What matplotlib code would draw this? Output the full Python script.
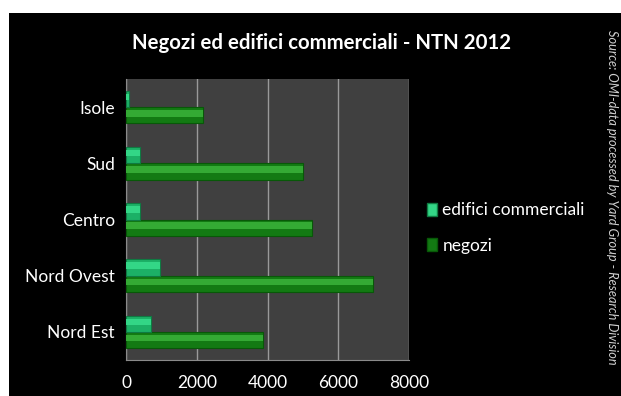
import matplotlib.pyplot as plt
from matplotlib.patches import Rectangle
import numpy as np

# data
regions = ["Nord Est", "Nord Ovest", "Centro", "Sud", "Isole"]
negozi = [3880, 6980, 5270, 4990, 2170]
edifici = [700, 960, 400, 400, 80]
xticks = [0, 2000, 4000, 6000, 8000]

title = "Negozi ed edifici commerciali - NTN 2012"
source = "Source: OMI-data processed by Yard Group - Research Division"

plt.rcParams['font.family'] = ['Lato', 'DejaVu Sans']

fig = plt.figure(figsize=(6.21, 3.96), dpi=100, facecolor="white")
# black panel with small white margin top/left
fig.patches.append(Rectangle((9 / 621, 0), 1, 1 - 13 / 396, transform=fig.transFigure,
                             facecolor="black", edgecolor="none", zorder=-10))

ax = fig.add_axes([126 / 621, 36 / 396, 283 / 621, 281 / 396])
ax.set_facecolor("#404040")

y = np.arange(len(regions))
h = 0.29

# negozi (lower bar), with a lighter stripe for the bevel look
ax.barh(y - h / 2, negozi, height=h, color="#137a13", edgecolor="#085808", linewidth=0.8, zorder=3)
ax.barh(y - h / 2 + h * 0.12, negozi, height=h * 0.4, color="#34aa34", edgecolor="none", zorder=4)
# edifici commerciali (upper bar)
ax.barh(y + h / 2, edifici, height=h, color="#1cb066", edgecolor="#0f7a42", linewidth=0.8, zorder=3)
ax.barh(y + h / 2 + h * 0.12, edifici, height=h * 0.4, color="#33d686", edgecolor="none", zorder=4)

ax.set_xlim(0, 8000)
ax.set_ylim(-0.5, len(regions) - 0.5)
ax.set_xticks(xticks)
ax.set_xticklabels([str(v) for v in xticks], color="white", fontsize=12.5)
ax.set_yticks(y)
ax.set_yticklabels(regions, color="white", fontsize=12.5)
ax.tick_params(length=0)
ax.tick_params(axis="x", pad=11)
ax.tick_params(axis="y", pad=8)
ax.grid(axis="x", color="#9a9a9a", linewidth=1, zorder=1)
for s in ["top", "right"]:
    ax.spines[s].set_visible(False)
for s in ["left", "bottom"]:
    ax.spines[s].set_color("#8a8a8a")

fig.text(322 / 621, 1 - 43 / 396, title, color="white", fontsize=14.7, fontweight="bold",
         ha="center", va="center")

# legend
handles = [Rectangle((0, 0), 1, 1, facecolor="#33d686", edgecolor="#0f7a42"),
           Rectangle((0, 0), 1, 1, facecolor="#137a13", edgecolor="#085808")]
leg = fig.legend(handles, ["edifici commerciali", "negozi"], loc="center left",
                 bbox_to_anchor=(411 / 621, 1 - 228 / 396), frameon=False,
                 handlelength=0.6, handleheight=0.8, handletextpad=0.3,
                 labelspacing=1.1, fontsize=12.5)
for t in leg.get_texts():
    t.set_color("white")

fig.text(612 / 621, 1 - 30 / 396, source, color="#d0d0d0", fontsize=9.2, style="italic",
         rotation=270, ha="center", va="top")

fig.savefig("out.png", dpi=100, facecolor=fig.get_facecolor())
